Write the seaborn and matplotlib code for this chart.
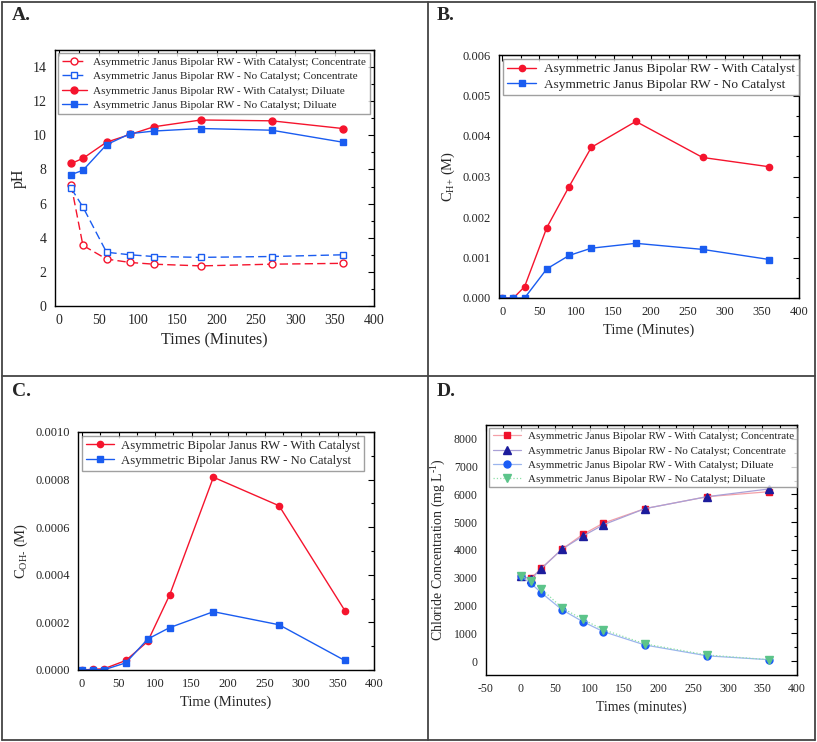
import numpy as np
import pandas as pd
import matplotlib
matplotlib.use("Agg")
import matplotlib.pyplot as plt
import seaborn as sns
from matplotlib.lines import Line2D
from matplotlib.ticker import MultipleLocator, FormatStrFormatter, NullFormatter

sns.set_style("white")
plt.rcParams["font.family"] = ["Liberation Serif", "DejaVu Serif"]
plt.rcParams["mathtext.fontset"] = "custom"
plt.rcParams["mathtext.rm"] = "Liberation Serif"
plt.rcParams["mathtext.it"] = "Liberation Serif:italic"
plt.rcParams["mathtext.bf"] = "Liberation Serif:bold"
plt.rcParams["axes.unicode_minus"] = False

# ---------------- data ----------------
t_a = [15, 30, 60, 90, 120, 180, 270, 360]
ph_conc_cat = [7.1, 3.55, 2.75, 2.55, 2.45, 2.35, 2.45, 2.5]
ph_conc_nocat = [6.9, 5.8, 3.15, 3.0, 2.9, 2.85, 2.9, 3.0]
ph_dil_cat = [8.35, 8.65, 9.6, 10.05, 10.5, 10.9, 10.85, 10.4]
ph_dil_nocat = [7.7, 7.95, 9.45, 10.1, 10.25, 10.4, 10.3, 9.6]

t_b = [0, 15, 30, 60, 90, 120, 180, 270, 360]
ch_cat = [0.0, 0.0, 0.00028, 0.00174, 0.00275, 0.00372, 0.00436, 0.00347, 0.00324]
ch_nocat = [0.0, 0.0, 0.0, 0.00072, 0.00105, 0.00123, 0.00135, 0.00120, 0.00095]

t_c = [0, 15, 30, 60, 90, 120, 180, 270, 360]
coh_cat = [0.0, 0.000003, 0.000005, 0.00004, 0.00012, 0.000315, 0.00081, 0.00069, 0.00025]
coh_nocat = [0.0, 0.000001, 0.000001, 0.00003, 0.00013, 0.000178, 0.000245, 0.00019, 0.00004]

t_d = [0, 15, 30, 60, 90, 120, 180, 270, 360]
cl_conc_cat = [3050, 2980, 3340, 4030, 4560, 4970, 5490, 5920, 6100]
cl_conc_nocat = [3070, 2950, 3330, 4030, 4500, 4910, 5490, 5920, 6200]
cl_dil_cat = [3050, 2800, 2460, 1850, 1420, 1060, 580, 190, 50]
cl_dil_nocat = [3050, 2900, 2600, 1920, 1500, 1130, 620, 220, 50]

RED = "#f5142d"
BLUE = "#1a5cf0"

W, H = 817, 742
fig = plt.figure(figsize=(W / 100, H / 100), dpi=100)


def axes_px(l, t, r, b):
    return fig.add_axes([l / W, 1 - b / H, (r - l) / W, (b - t) / H])


def style(ax, xmaj, xmin, ymaj, ymin, tick_fs=9):
    ax.xaxis.set_major_locator(MultipleLocator(xmaj))
    ax.xaxis.set_minor_locator(MultipleLocator(xmin))
    ax.yaxis.set_major_locator(MultipleLocator(ymaj))
    ax.yaxis.set_minor_locator(MultipleLocator(ymin))
    ax.tick_params(which="both", direction="out", labelsize=tick_fs,
                   color="black", pad=2)
    ax.tick_params(which="major", length=4, width=0.8)
    ax.tick_params(which="minor", length=2.5, width=0.8)
    for s in ax.spines.values():
        s.set_color("black")
        s.set_linewidth(1.0)
    # inward ticks on the top and right sides (Origin style)
    top = ax.secondary_xaxis("top")
    right = ax.secondary_yaxis("right")
    for sec, (maj, mn) in ((top, (xmaj, xmin)), (right, (ymaj, ymin))):
        axis = sec.xaxis if sec is top else sec.yaxis
        axis.set_major_locator(MultipleLocator(maj))
        axis.set_minor_locator(MultipleLocator(mn))
        axis.set_major_formatter(NullFormatter())
        sec.tick_params(which="both", direction="in", color="black")
        sec.tick_params(which="major", length=4, width=0.8)
        sec.tick_params(which="minor", length=2.5, width=0.8)


def series(ax, x, y, color, marker, label, ls="-", mfc=None, ms=4.5,
           lw=1.0, lcolor=None):
    sns.lineplot(x=x, y=y, ax=ax, color=lcolor or color, linestyle=ls,
                 marker=marker, markersize=ms,
                 markerfacecolor=mfc if mfc else color,
                 markeredgecolor=color, markeredgewidth=1.0,
                 linewidth=lw, label=label)


def legend(ax, fs, hl=2.2, ls=0.25):
    leg = ax.legend(loc="upper left", fontsize=fs, frameon=True, fancybox=False,
                    edgecolor="#888888", borderaxespad=0.3, handlelength=hl,
                    borderpad=0.3, labelspacing=ls, handletextpad=0.6)
    leg.get_frame().set_linewidth(1.0)
    leg.set_zorder(10)
    return leg


# ---------------- Panel A ----------------
axA = axes_px(55, 50, 374, 306)
series(axA, t_a, ph_conc_cat, RED, "o",
       "Asymmetric Janus Bipolar RW - With Catalyst; Concentrate",
       ls=(0, (6, 3)), mfc="white", ms=5)
series(axA, t_a, ph_conc_nocat, BLUE, "s",
       "Asymmetric Janus Bipolar RW - No Catalyst; Concentrate",
       ls=(0, (6, 3)), mfc="white", ms=4.5)
series(axA, t_a, ph_dil_cat, RED, "o",
       "Asymmetric Janus Bipolar RW - With Catalyst; Diluate", ms=5)
series(axA, t_a, ph_dil_nocat, BLUE, "s",
       "Asymmetric Janus Bipolar RW - No Catalyst; Diluate", ms=4.5)
axA.set_xlim(-5.5, 400)
axA.set_ylim(0, 15)
style(axA, 50, 25, 2, 1, tick_fs=10)
axA.set_xlabel("Times (Minutes)", fontsize=11.5)
axA.set_ylabel("pH", fontsize=11.5)
legend(axA, 8.1, ls=0.42)

# ---------------- Panel B ----------------
axB = axes_px(499, 55, 799, 298)
series(axB, t_b, ch_cat, RED, "o", "Asymmetric Janus Bipolar RW - With Catalyst", ms=4.5)
series(axB, t_b, ch_nocat, BLUE, "s", "Asymmetric Janus Bipolar RW - No Catalyst", ms=4.2)
axB.set_xlim(-4.5, 400)
axB.set_ylim(0, 0.006)
style(axB, 50, 25, 0.001, 0.0005, tick_fs=9)
axB.yaxis.set_major_formatter(FormatStrFormatter("%.3f"))
axB.set_xlabel("Time (Minutes)", fontsize=10.5)
axB.set_ylabel(r"C$_{\mathrm{H}\text{+}}$ (M)", fontsize=10.5)
legend(axB, 9.6)

# ---------------- Panel C ----------------
axC = axes_px(78, 432, 374, 670)
series(axC, t_c, coh_cat, RED, "o", "Asymmetric Bipolar Janus RW - With Catalyst", ms=4.5)
series(axC, t_c, coh_nocat, BLUE, "s", "Asymmetric Bipolar Janus RW - No Catalyst", ms=4.2)
axC.set_xlim(-5.5, 400)
axC.set_ylim(0, 0.001)
style(axC, 50, 25, 0.0002, 0.0001, tick_fs=9)
axC.yaxis.set_major_formatter(FormatStrFormatter("%.4f"))
axC.set_xlabel("Time (Minutes)", fontsize=10.5)
axC.set_ylabel(r"C$_{\mathrm{OH}\text{-}}$ (M)", fontsize=10.5)
legend(axC, 9.2)

# ---------------- Panel D ----------------
axD = axes_px(486, 425, 797, 675)
series(axD, t_d, cl_conc_cat, "#f0102a", "s",
       "Asymmetric Janus Bipolar RW - With Catalyst; Concentrate",
       ms=4.2, lw=0.9, lcolor="#f4a0a8")
series(axD, t_d, cl_conc_nocat, "#1c1c9c", "^",
       "Asymmetric Janus Bipolar RW - No Catalyst; Concentrate",
       ms=5.5, lw=0.9, lcolor="#a9a0d6")
series(axD, t_d, cl_dil_cat, "#1a5cf5", "o",
       "Asymmetric Janus Bipolar RW - With Catalyst; Diluate",
       ms=5, lw=0.9, lcolor="#9bb5ee")
series(axD, t_d, cl_dil_nocat, "#5cc48a", "v",
       "Asymmetric Janus Bipolar RW - No Catalyst; Diluate",
       ls=":", ms=5.5, lw=0.9, lcolor="#8ee0a8")
axD.set_xlim(-50, 400)
axD.set_ylim(-500, 8500)
style(axD, 50, 25, 1000, 500, tick_fs=8.5)
axD.set_xlabel("Times (minutes)", fontsize=10)
axD.set_ylabel(r"Chloride Concentration (mg L$^{\text{-1}}$)", fontsize=10)
legend(axD, 7.9, hl=2.6, ls=0.42)

# ---------------- panel letters and frame ----------------
for txt, x, y in [("A.", 12, 16), ("B.", 437, 16), ("C.", 12, 392), ("D.", 437, 392)]:
    fig.text(x / W, 1 - y / H, txt, fontsize=14, fontweight="bold",
             ha="left", va="center")

fcol = "#444444"
for xs, ys in [([2, 815], [2, 2]), ([2, 815], [740, 740]), ([2, 2], [2, 740]),
               ([815, 815], [2, 740]), ([428, 428], [2, 740]), ([2, 815], [376, 376])]:
    fig.add_artist(Line2D([x / W for x in xs], [1 - y / H for y in ys],
                          color=fcol, lw=1.3))

fig.savefig("out.png", dpi=100)
